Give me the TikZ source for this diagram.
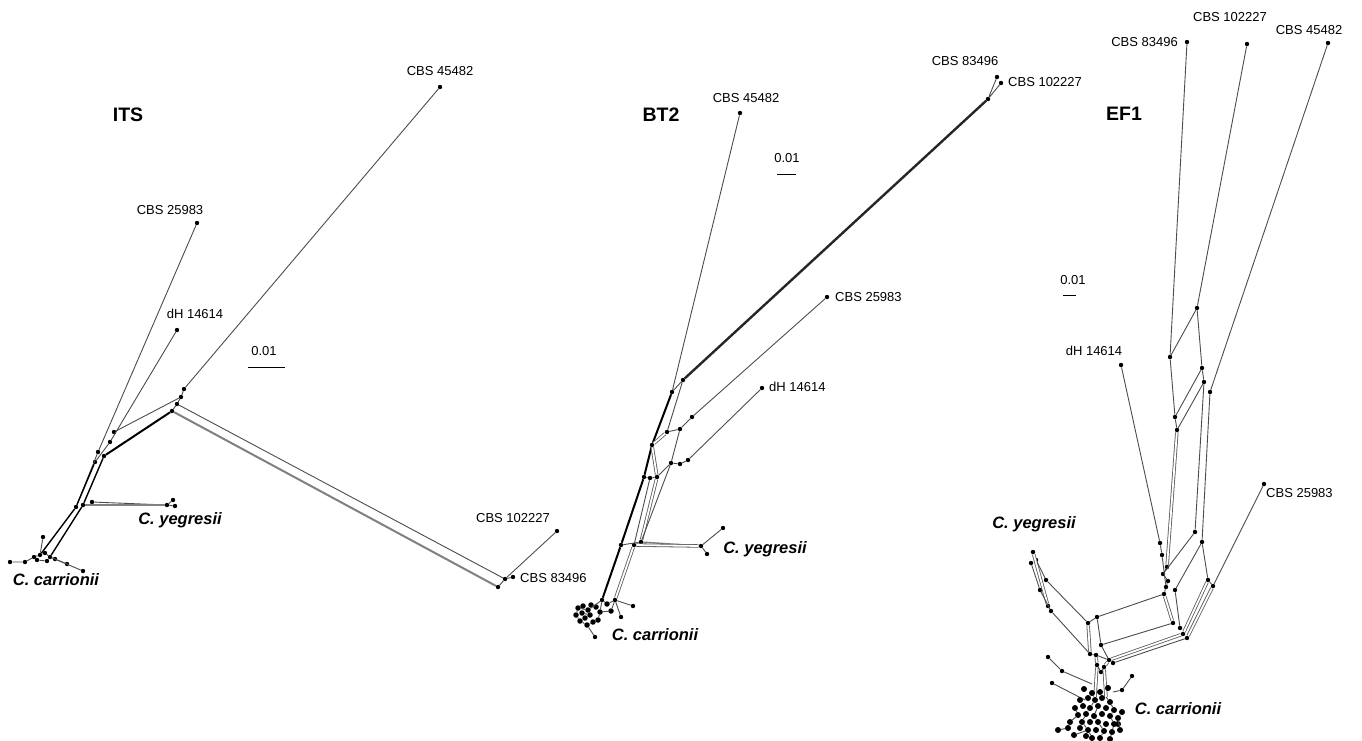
\documentclass[tikz,border=0pt]{standalone}
\usepackage{fontspec}
\setmainfont{Liberation Sans}
\usetikzlibrary{positioning}
\tikzset{
      tip/.style={circle, fill=black, inner sep=0pt, minimum size=4.4pt},
      edge/.style={draw=black!70, line width=0.9pt},
      trunk/.style={draw=black, line width=2pt},
      band/.style={draw=black!65, line width=0.8pt, double=white, double distance=1.8pt},
      greyband/.style={draw=black!50, line width=2pt},
      strain/.style={font=\fontsize{13}{15}\selectfont, inner sep=0pt},
      species/.style={font=\fontsize{16.5}{19}\selectfont\bfseries\itshape, inner sep=0pt},
      panel/.style={font=\fontsize{19.5}{22}\selectfont\bfseries, inner sep=0pt},
      scalebar/.style={draw=black, line width=1pt}
    }

\begin{document}
\begin{tikzpicture}[x=1pt,y=-1pt]
    \path[use as bounding box] (0,0) rectangle (1362,740);

    % ITS
    \node[panel] (itsT) at (128,115) {ITS};
    \node[tip] (i45) at (440,87) {};
    \node[tip] (i25) at (197,223) {};
    \node[tip] (idh) at (177,330) {};
    \node[tip] (i10) at (557,531) {};
    \node[tip] (i83) at (513,577) {};
    \node[tip] (i83b) at (505,579) {};
    \node[tip] (ie) at (498,587) {};
    \node[tip] (ia) at (184,389) {};
    \node[tip] (ib) at (181,397) {};
    \node[tip] (ic) at (177,404) {};
    \node[tip] (id) at (172,411) {};
    \node[tip] (if) at (114,432) {};
    \node[tip] (ig) at (110,442) {};
    \node[tip] (ih) at (104,456) {};
    \node[tip] (ii) at (98,452) {};
    \node[tip] (ij) at (95,462) {};
    \node[tip] (im) at (76,507) {};
    \node[tip] (in) at (83,505) {};
    \node[tip] (io) at (92,502) {};
    \node[tip] (iy1) at (167,505) {};
    \node[tip] (iy2) at (173,500) {};
    \node[tip] (iy3) at (175,506) {};
    \node[tip] (ik1) at (40,555) {};
    \node[tip] (ik2) at (50,557) {};
    \node[tip] (ik3) at (34,557) {};
    \node[tip] (ik4) at (45,553) {};
    \node[tip] (ik5) at (25,562) {};
    \node[tip] (ik6) at (10,562) {};
    \node[tip] (ik7) at (43,537) {};
    \node[tip] (ik8) at (67,564) {};
    \node[tip] (ik9) at (83,571) {};
    \node[tip] (ik10) at (55,559) {};
    \node[tip] (ik11) at (37,560) {};
    \node[tip] (ik12) at (47,561) {};
    \draw[edge] (i45) -- (ia) -- (ib) -- (ic);
    \draw[edge] (if) -- (ib);
    \draw[edge] (i25) -- (ii) -- (im);
    \draw[edge] (idh) -- (ig) -- (ij);
    \draw[trunk] (ih) -- (id);
    \draw[edge] (ic) -- (id);
    \draw[edge] (ic) -- (i83b) -- (i10);
    \draw[greyband] (id) -- (ie);
    \draw[edge] (ie) -- (i83b) -- (i83);
    \draw[trunk, line width=1.4pt] (ih) -- (in);
    \draw[trunk, line width=1.4pt] (ij) -- (im);
    \draw[edge] (io) -- (iy1);
    \draw[greyband] (in) -- (iy1);
    \draw[edge] (iy2) -- (iy1) -- (iy3);
    \draw[trunk, line width=1.4pt] (im) -- (ik1);
    \draw[trunk, line width=1.4pt] (in) -- (ik2);
    \draw[edge] (ik6) -- (ik5) -- (ik3) -- (ik1) -- (ik4) -- (ik2) -- (ik10) -- (ik9);
    \draw[edge] (ik7) -- (ik1);
    \draw[edge] (ik2) -- (ik8);
    \draw[edge] (ik11) -- (ik12) -- (ik2);
    \coordinate (isb1) at (248,367);
    \coordinate (isb2) at (285,367);
    \draw[scalebar] (isb1) -- (isb2);
    \node[strain] (isl) at (264,351) {0.01};
    \node[strain] (i45l) at (440,71) {CBS 45482};
    \node[strain] (i25l) at (170,210) {CBS 25983};
    \node[strain] (idhl) at (195,314) {dH 14614};
    \node[strain] (i10l) at (513,518) {CBS 102227};
    \node[strain, anchor=west] (i83l) at (520,578) {CBS 83496};
    \node[species] (iyl) at (180,520) {C. yegresii};
    \node[species] (icl) at (56,580) {C. carrionii};

    % BT2
    \node[panel] (btT) at (661,115) {BT2};
    \node[tip] (b45) at (740,113) {};
    \node[tip] (b83) at (997,77) {};
    \node[tip] (b10) at (1001,83) {};
    \node[tip] (bj) at (988,99) {};
    \node[tip] (b1) at (683,380) {};
    \node[tip] (b2) at (672,392) {};
    \node[tip] (b25) at (827,297) {};
    \node[tip] (b4) at (692,417) {};
    \node[tip] (b5) at (680,429) {};
    \node[tip] (b6) at (667,432) {};
    \node[tip] (b3) at (652,445) {};
    \node[tip] (bdh) at (762,388) {};
    \node[tip] (b7) at (688,460) {};
    \node[tip] (b7a) at (680,464) {};
    \node[tip] (b7b) at (671,463) {};
    \node[tip] (b8) at (644,477) {};
    \node[tip] (b8a) at (650,478) {};
    \node[tip] (b8b) at (657,477) {};
    \node[tip] (b9) at (621,545) {};
    \node[tip] (b9a) at (634,545) {};
    \node[tip] (b9b) at (641,542) {};
    \node[tip] (by1) at (701,546) {};
    \node[tip] (by2) at (723,528) {};
    \node[tip] (by3) at (707,554) {};
    \node[tip] (bk) at (602,600) {};
    \node[tip] (bm) at (615,600) {};
    \node[tip] (bm1) at (633,606) {};
    \node[tip] (bm2) at (621,617) {};
    \node[tip] (bq) at (595,637) {};
    \draw[edge] (b83) -- (bj) -- (b10);
    \draw[trunk, line width=2.4pt, draw=black!85] (bj) -- (b1);
    \draw[edge] (b45) -- (b2) -- (b1) -- (b6);
    \draw[trunk] (b2) -- (b3) -- (b8) -- (b9) -- (bk);
    \draw[edge] (b25) -- (b4) -- (b5) -- (b6);
    \draw[band] (b3) -- (b6);
    \draw[edge] (b5) -- (b7b);
    \draw[edge] (bdh) -- (b7) -- (b7a) -- (b7b) -- (b8b) -- (b8a) -- (b8);
    \draw[band] (b3) -- (b8b);
    \draw[edge] (b8a) -- (b9a);
    \draw[band] (b8b) -- (b9b);
    \draw[edge] (b7b) -- (b9b);
    \draw[edge] (b9) -- (b9b);
    \draw[greyband, line width=1.4pt] (b9b) -- (by1);
    \draw[band] (b9a) -- (by1);
    \draw[edge] (by2) -- (by1) -- (by3);
    \draw[band] (b9a) -- (bm);
    \draw[edge] (bm) -- (bm1);
    \draw[edge] (bm) -- (bm2);
    \foreach \p [count=\k] in {(578,608),(582,613),(588,610),(585,618),(590,615),(580,621),(593,622),(587,625),(576,615),(596,607),(600,612),(598,620),(607,604),(611,611),(583,606),(591,605)}
      \node[tip, minimum size=5.5pt] (bc\k) at \p {};
    \draw[edge] (bk) -- (bc3) -- (bc1) -- (bc9) -- (bc6) -- (bc8) -- (bc7) -- (bc12) -- (bc11) -- (bk);
    \draw[edge] (bc2) -- (bc5) -- (bc4);
    \draw[edge] (bc8) -- (bq);
    \draw[edge] (bc11) -- (bc14) -- (bm);
    \draw[edge] (bk) -- (bc13) -- (bm);
    \coordinate (bsb1) at (777,174);
    \coordinate (bsb2) at (796,174);
    \draw[scalebar] (bsb1) -- (bsb2);
    \node[strain] (bsl) at (787,158) {0.01};
    \node[strain] (b45l) at (746,98) {CBS 45482};
    \node[strain] (b83l) at (965,61) {CBS 83496};
    \node[strain, anchor=west] (b10l) at (1008,82) {CBS 102227};
    \node[strain, anchor=west] (b25l) at (835,297) {CBS 25983};
    \node[strain, anchor=west] (bdhl) at (769,387) {dH 14614};
    \node[species] (byl) at (765,549) {C. yegresii};
    \node[species] (bcl) at (655,635) {C. carrionii};

    % EF1
    \node[panel] (efT) at (1124,114) {EF1};
    \node[tip] (e83) at (1187,42) {};
    \node[tip] (e10) at (1247,44) {};
    \node[tip] (e45) at (1328,43) {};
    \node[tip] (e25) at (1264,484) {};
    \node[tip] (edh) at (1121,365) {};
    \node[tip] (ea) at (1170,357) {};
    \node[tip] (eb) at (1197,308) {};
    \node[tip] (ec) at (1202,368) {};
    \node[tip] (ed) at (1204,382) {};
    \node[tip] (ee) at (1210,392) {};
    \node[tip] (ef) at (1175,417) {};
    \node[tip] (eg) at (1177,430) {};
    \node[tip] (eh1) at (1160,543) {};
    \node[tip] (eh2) at (1162,555) {};
    \node[tip] (ei) at (1195,532) {};
    \node[tip] (ej) at (1202,542) {};
    \node[tip] (ek) at (1167,567) {};
    \node[tip] (el) at (1163,574) {};
    \node[tip] (em) at (1168,581) {};
    \node[tip] (en) at (1166,587) {};
    \node[tip] (eo) at (1164,594) {};
    \node[tip] (ep) at (1175,590) {};
    \node[tip] (eq) at (1208,580) {};
    \node[tip] (er) at (1213,586) {};
    \node[tip] (ey1) at (1033,552) {};
    \node[tip] (ey2) at (1036,560) {};
    \node[tip] (ey3) at (1031,563) {};
    \node[tip] (ey4) at (1046,580) {};
    \node[tip] (ey5) at (1040,590) {};
    \node[tip] (ey6) at (1048,606) {};
    \node[tip] (ey7) at (1051,611) {};
    \node[tip] (eu1) at (1088,623) {};
    \node[tip] (eu2) at (1097,617) {};
    \node[tip] (eu3) at (1101,645) {};
    \node[tip] (eu4) at (1090,654) {};
    \node[tip] (eu5) at (1096,655) {};
    \node[tip] (eu6) at (1109,660) {};
    \node[tip] (eu7) at (1113,663) {};
    \node[tip] (ev2) at (1173,623) {};
    \node[tip] (ev3) at (1180,628) {};
    \node[tip] (ev4) at (1183,634) {};
    \node[tip] (ev5) at (1187,638) {};
    \node[tip] (ew1) at (1097,665) {};
    \node[tip] (ew2) at (1104,667) {};
    \node[tip] (ew3) at (1101,672) {};
    \node[tip] (ex1) at (1048,657) {};
    \node[tip] (ex2) at (1062,671) {};
    \node[tip] (ex3) at (1052,683) {};
    \node[tip] (ex4) at (1132,676) {};
    \node[tip] (ex5) at (1122,690) {};
    \draw[edge] (e83) -- (ea);
    \draw[edge] (e10) -- (eb);
    \draw[edge] (e45) -- (ee);
    \draw[edge] (ea) -- (eb) -- (ec) -- (ed);
    \draw[edge] (ec) -- (ef);
    \draw[edge] (ed) -- (eg);
    \draw[edge] (ea) -- (ef) -- (eg);
    \draw[edge] (edh) -- (eh1) -- (eh2) -- (en);
    \draw[band] (eg) -- (ek);
    \draw[edge] (ed) -- (ei) -- (el);
    \draw[edge] (ee) -- (ej) -- (ep);
    \draw[edge] (ej) -- (eq) -- (er) -- (e25);
    \draw[edge] (ek) -- (el) -- (em) -- (en) -- (eo);
    \draw[edge] (eo) -- (eu2);
    \draw[band] (eo) -- (ev2);
    \draw[edge] (ep) -- (ev3);
    \draw[band] (eq) -- (ev4);
    \draw[band] (er) -- (ev5);
    \draw[edge] (eu3) -- (ev2);
    \draw[band] (eu6) -- (ev4);
    \draw[edge] (eu7) -- (ev5);
    \draw[band] (eu1) -- (eu4);
    \draw[edge] (eu2) -- (eu3);
    \draw[edge] (eu2) -- (eu1);
    \draw[edge] (eu4) -- (eu5) -- (eu6) -- (eu7);
    \draw[edge] (eu3) -- (eu6);
    \draw[band] (ey1) -- (ey6);
    \draw[edge] (ey3) -- (ey5) -- (ey7);
    \draw[edge] (ey2) -- (ey4) -- (eu1);
    \draw[edge] (ey6) -- (ey7) -- (eu4);
    \coordinate (ez1) at (1095,697);
    \coordinate (ez2) at (1106,697);
    \coordinate (ez3) at (1092,684);
    \coordinate (ez4) at (1085,700);
    \coordinate (ez5) at (1113,692);
    \draw[band] (eu5) -- (ew1) -- (ez1);
    \draw[band] (eu6) -- (ew2) -- (ez2);
    \draw[edge] (ew1) -- (ew3) -- (ew2);
    \draw[edge] (ex1) -- (ex2) -- (ez3);
    \draw[edge] (ex3) -- (ez4);
    \draw[edge] (ex4) -- (ex5) -- (ez5);
    \foreach \p [count=\k] in {(1080,700),(1088,698),(1095,700),(1102,698),(1110,702),(1075,708),(1083,706),(1090,708),(1098,706),(1106,708),(1114,710),(1078,715),(1086,714),(1094,716),(1102,714),(1110,716),(1118,718),(1082,722),(1090,722),(1098,722),(1106,724),(1114,724),(1088,730),(1096,730),(1104,731),(1112,732),(1070,722),(1122,712),(1068,728),(1058,730),(1100,738),(1092,738),(1120,730),(1074,735),(1110,739),(1084,689),(1108,688),(1092,693),(1100,692),(1080,728),(1086,736),(1118,724)}
      \node[tip, minimum size=6pt] (ec\k) at \p {};
    \draw[edge] (ez1) -- (ec3) -- (ec8) -- (ec13) -- (ec18) -- (ec23) -- (ec32);
    \draw[edge] (ez2) -- (ec5) -- (ec11) -- (ec16) -- (ec22) -- (ec26) -- (ec35);
    \draw[edge] (ec6) -- (ec12) -- (ec27) -- (ec29) -- (ec30);
    \draw[edge] (ec9) -- (ec14) -- (ec20) -- (ec25) -- (ec31);
    \draw[edge] (ec28) -- (ec17) -- (ec33);
    \draw[edge] (ec34) -- (ec23);
    \coordinate (esb1) at (1063,295);
    \coordinate (esb2) at (1076,295);
    \draw[scalebar] (esb1) -- (esb2);
    \node[strain] (esl) at (1073,280) {0.01};
    \node[strain, anchor=east] (e83l) at (1178,42) {CBS 83496};
    \node[strain] (e10l) at (1230,17) {CBS 102227};
    \node[strain] (e45l) at (1309,30) {CBS 45482};
    \node[strain] (edhl) at (1094,351) {dH 14614};
    \node[strain, anchor=north west] (e25l) at (1266,488) {CBS 25983};
    \node[species] (eyl) at (1034,524) {C. yegresii};
    \node[species] (ecl) at (1178,709) {C. carrionii};
    \end{tikzpicture}
\end{document}
